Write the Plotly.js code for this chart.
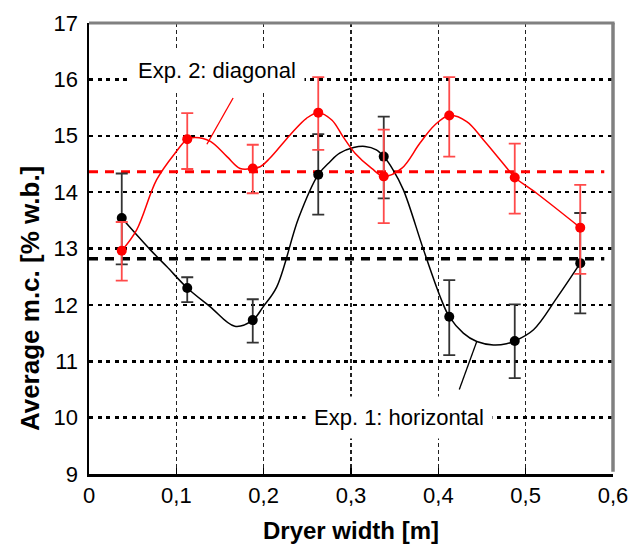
<!DOCTYPE html>
<html>
<head>
<meta charset="utf-8">
<script src="https://cdn.plot.ly/plotly-3.0.1.min.js"></script>
<style>html,body{margin:0;padding:0;background:#fff;}#chart{width:640px;height:544px;}</style>
</head>
<body>
<div id="chart"></div>
<script>
// ---- data ----
const positions = [0.0375, 0.1125, 0.1875, 0.2625, 0.3375, 0.4125, 0.4875, 0.5625];

// Exp. 1: horizontal (black)
const exp1Mean = [13.54, 12.30, 11.73, 14.31, 14.63, 11.79, 11.36, 12.74];
const exp1ErrPlus = [0.79, 0.19, 0.37, 0.72, 0.71, 0.65, 0.65, 0.89];
const exp1ErrMinus = [0.82, 0.25, 0.40, 0.71, 0.74, 0.68, 0.66, 0.89];
const exp1CurveX = [0.0375, 0.070, 0.089, 0.1125, 0.1386, 0.167, 0.1875, 0.1996, 0.215, 0.240, 0.2625, 0.276, 0.287, 0.303, 0.316, 0.329, 0.3375, 0.348, 0.360, 0.383, 0.402, 0.4125, 0.4286, 0.444, 0.463, 0.478, 0.4875, 0.509, 0.5355, 0.5625];
const exp1CurveY = [13.54, 12.98, 12.68, 12.30, 11.97, 11.62, 11.73, 11.97, 12.32, 13.54, 14.31, 14.54, 14.69, 14.79, 14.81, 14.75, 14.63, 14.40, 14.04, 12.98, 12.15, 11.79, 11.50, 11.35, 11.29, 11.31, 11.36, 11.56, 12.12, 12.74];
const exp1Average = 12.82;

// Exp. 2: diagonal (red)
const exp2Mean = [12.96, 14.94, 14.42, 15.41, 14.28, 15.36, 14.26, 13.37];
const exp2ErrPlus = [0.51, 0.46, 0.42, 0.63, 0.83, 0.68, 0.60, 0.76];
const exp2ErrMinus = [0.53, 0.53, 0.44, 0.66, 0.83, 0.73, 0.64, 0.82];
const exp2CurveX = [0.0375, 0.0546, 0.0775, 0.100, 0.1125, 0.1214, 0.139, 0.158, 0.173, 0.1875, 0.196, 0.207, 0.230, 0.249, 0.2625, 0.278, 0.291, 0.3046, 0.3237, 0.3375, 0.358, 0.379, 0.396, 0.4125, 0.4325, 0.4515, 0.482, 0.4875, 0.5125, 0.5625];
const exp2CurveY = [12.96, 13.33, 14.22, 14.72, 14.94, 14.97, 14.90, 14.63, 14.42, 14.42, 14.45, 14.60, 15.01, 15.31, 15.41, 15.28, 14.98, 14.69, 14.42, 14.28, 14.42, 14.87, 15.19, 15.36, 15.25, 14.93, 14.36, 14.26, 13.98, 13.37];
const exp2Average = 14.36;

const averageSpan = [0, 0.59];

const seriesLabels = ["Exp. 1: horizontal", "Exp. 2: diagonal"];
const xTitle = "Dryer width [m]";
const yTitle = "Average m.c. [% w.b.]";

// ---- styling ----
const FONT = "Liberation Sans, Arial, Helvetica, sans-serif";
const RED = "#ff0000";
const BLACK = "#000000";

const traces = [
  {x: averageSpan, y: averageSpan.map(() => exp1Average), mode: "lines",
   line: {color: BLACK, width: 3.5, dash: "9px,7px"}, hoverinfo: "skip"},
  {x: averageSpan, y: averageSpan.map(() => exp2Average), mode: "lines",
   line: {color: RED, width: 3, dash: "9px,7px"}, hoverinfo: "skip"},
  {x: exp1CurveX, y: exp1CurveY, mode: "lines",
   line: {color: BLACK, width: 1.5, shape: "spline", smoothing: 1}},
  {x: exp2CurveX, y: exp2CurveY, mode: "lines",
   line: {color: RED, width: 1.5, shape: "spline", smoothing: 1}},
  {x: positions, y: exp1Mean, mode: "markers", name: seriesLabels[0],
   marker: {color: BLACK, size: 10},
   error_y: {type: "data", symmetric: false, array: exp1ErrPlus, arrayminus: exp1ErrMinus,
             color: "#333333", thickness: 1.8, width: 6}},
  {x: positions, y: exp2Mean, mode: "markers", name: seriesLabels[1],
   marker: {color: RED, size: 10},
   error_y: {type: "data", symmetric: false, array: exp2ErrPlus, arrayminus: exp2ErrMinus,
             color: "#ff4a4a", thickness: 1.8, width: 6}}
];

const layout = {
  width: 640, height: 544,
  margin: {l: 89, r: 27, t: 23, b: 70},
  paper_bgcolor: "#fff", plot_bgcolor: "#fff",
  showlegend: false,
  separators: ",.",
  font: {family: FONT, size: 22, color: "#000"},
  xaxis: {
    range: [0, 0.6], dtick: 0.1, tick0: 0,
    showgrid: true, gridcolor: "#222", gridwidth: 1.3, griddash: "4px,3px",
    zeroline: false, showline: true, linecolor: "#000", linewidth: 2.5,
    ticks: "inside", ticklen: 6, tickwidth: 1.5, tickcolor: "#000",
    tickfont: {family: FONT, size: 22, color: "#000"},
    title: {text: xTitle, font: {family: FONT, size: 24, color: "#000", weight: "bold"}, standoff: 16}
  },
  yaxis: {
    range: [9, 17], dtick: 1,
    showgrid: true, gridcolor: "#000", gridwidth: 2.5, griddash: "4px,4.5px",
    zeroline: false, showline: true, linecolor: "#000", linewidth: 2.5,
    ticks: "", ticklabelstandoff: 4,
    tickfont: {family: FONT, size: 22, color: "#000"}
  },
  shapes: [
    {type: "line", xref: "paper", yref: "paper", x0: 0, x1: 1.003, y0: 1, y1: 1,
     line: {color: "#808080", width: 3}, layer: "above"},
    {type: "line", xref: "paper", yref: "paper", x0: 1, x1: 1, y0: 0.005, y1: 1,
     line: {color: "#808080", width: 3.5}, layer: "above"},
    {type: "line", xref: "x", yref: "y", x0: 0.165, y0: 15.67, x1: 0.135, y1: 14.85,
     line: {color: RED, width: 1.3}},
    {type: "line", xref: "x", yref: "y", x0: 0.424, y0: 10.50, x1: 0.444, y1: 11.35,
     line: {color: BLACK, width: 1.3}}
  ],
  annotations: [
    {x: 0.147, y: 16.15, xref: "x", yref: "y", text: seriesLabels[1], showarrow: false,
     font: {family: FONT, size: 22, color: "#000"}, bgcolor: "#fff", borderpad: 8},
    {x: 0.355, y: 10.01, xref: "x", yref: "y", text: seriesLabels[0], showarrow: false,
     font: {family: FONT, size: 22, color: "#000"}, bgcolor: "#fff", borderpad: 8},
    {x: -0.1126, y: 0.39, xref: "paper", yref: "paper", text: yTitle, showarrow: false,
     textangle: -90, xanchor: "center", yanchor: "middle",
     font: {family: FONT, size: 26, color: "#000", weight: "bold"}}
  ]
};

Plotly.newPlot("chart", traces, layout, {displayModeBar: false, staticPlot: true});
</script>
</body>
</html>
